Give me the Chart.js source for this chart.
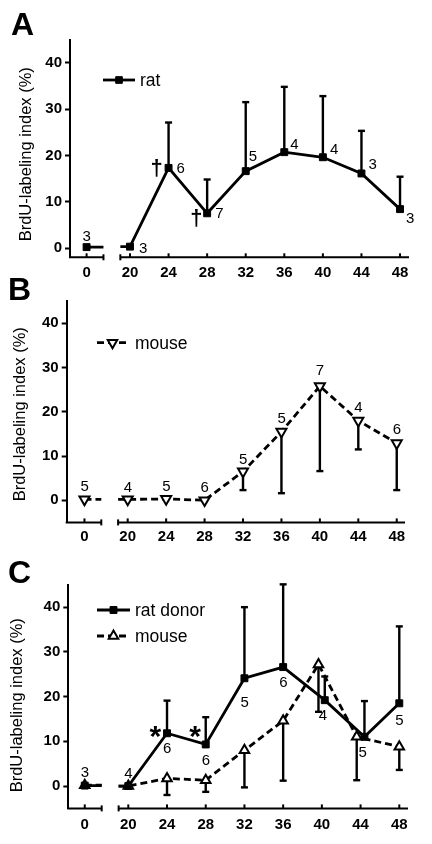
<!DOCTYPE html>
<html>
<head>
<meta charset="UTF-8">
<script src="https://cdn.jsdelivr.net/npm/chart.js"></script>
<style>
  body { margin: 0; background: #fff; }
  #wrap { position: relative; width: 432px; height: 844px; }
  #wrap canvas { position: absolute; left: 0; top: 0; }
</style>
</head>
<body>
<div id="wrap">
  <canvas id="chartA" width="432" height="844"></canvas>
  <canvas id="chartB" width="432" height="844"></canvas>
  <canvas id="chartC" width="432" height="844"></canvas>
</div>
<script>
// tick labels
var hourTicks = [0, 20, 24, 28, 32, 36, 40, 44, 48];
var yTicks = [0, 10, 20, 30, 40];

// panel A - rat
var ratAHours = [0, 20, 24, 28, 32, 36, 40, 44, 48];
var ratAValues = [0.2, 0.3, 17.3, 7.5, 16.6, 20.7, 19.6, 16.1, 8.4];
var ratAErrTop = [null, null, 27.1, 14.8, 31.5, 34.8, 32.8, 25.3, 15.4];
var ratAN = ['3', '3', '6', '7', '5', '4', '4', '3', '3'];

// panel B - mouse
var mouseBHours = [0, 20, 24, 28, 32, 36, 40, 44, 48];
var mouseBValues = [0.2, 0.2, 0.3, 0, 6.5, 15.5, 25.8, 18.0, 12.9];
var mouseBErrBottom = [null, null, null, null, 2.3, 1.6, 6.6, 11.5, 2.3];
var mouseBN = ['5', '4', '5', '6', '5', '5', '7', '4', '6'];

// panel C - rat donor and mouse (points at 40/44 drawn slightly apart, as in the figure)
var ratCHours = [0, 20, 24, 28, 32, 36, 40.3, 44.4, 48];
var ratCValues = [0.1, 0, 11.8, 9.3, 24.1, 26.6, 19.2, 11.0, 18.5];
var ratCErrTop = [null, null, 19.1, 15.4, 40.0, 45.1, 24.5, 19.0, 35.7];
var ratCN = ['3', '4', '6', '6', '5', '6', '4', '5', '5'];
var mouseCHours = [0, 20, 24, 28, 32, 36, 39.65, 43.6, 48];
var mouseCValues = [0.2, 0, 1.7, 1.3, 8.0, 14.6, 27.2, 11.0, 8.8];
var mouseCErrBottom = [null, null, -2.0, -1.3, -0.3, 1.2, 16.6, 1.3, 3.6];

// axis break: hour 0 is drawn at ZERO_POS, axis is cut between BREAK_L and BREAK_R
var ZERO_POS = 15.5, BREAK_L = 17.25, BREAK_R = 19.0;
var FONT = '"Liberation Sans", Arial, sans-serif';
var CAP = 3.5;

function toPos(h) { return h === 0 ? ZERO_POS : h; }

function buildLine(hours, values) {
  var pts = [];
  for (var i = 0; i < hours.length; i++) {
    pts.push({ x: toPos(hours[i]), y: values[i], mark: true });
    if (hours[i] === 0) {
      pts.push({ x: BREAK_L, y: values[i] });
      pts.push({ x: (BREAK_L + BREAK_R) / 2, y: null });
      pts.push({ x: BREAK_R, y: values[i + 1] });
    }
  }
  return pts;
}

function series(o) {
  return {
    label: o.label,
    data: buildLine(o.hours, o.values),
    hours: o.hours, values: o.values, errEnd: o.err, nLabels: o.n, nPlace: o.place,
    borderColor: '#000', borderWidth: 2.8, borderDash: o.dash || [],
    fill: false, tension: 0, spanGaps: false,
    pointStyle: o.style, pointRotation: o.rot || 0,
    pointRadius: function (c) { return c.raw && c.raw.mark ? o.r : 0; },
    pointBackgroundColor: o.bg, pointBorderColor: '#000', pointBorderWidth: o.bw
  };
}

function centerText(ctx, text, cx, cy) {
  ctx.textAlign = 'center';
  ctx.textBaseline = 'alphabetic';
  var m = ctx.measureText(text);
  ctx.fillText(text, cx - (m.actualBoundingBoxRight - m.actualBoundingBoxLeft) / 2,
    cy + (m.actualBoundingBoxAscent - m.actualBoundingBoxDescent) / 2);
}

function line(ctx, x1, y1, x2, y2) {
  ctx.beginPath(); ctx.moveTo(x1, y1); ctx.lineTo(x2, y2); ctx.stroke();
}

var panelPlugin = {
  id: 'panel',
  beforeDatasetsDraw: function (chart) {
    var ctx = chart.ctx, xs = chart.scales.x, ys = chart.scales.y;
    ctx.save();
    ctx.strokeStyle = '#000';
    ctx.lineWidth = 2.4;
    chart.data.datasets.forEach(function (ds) {
      if (!ds.errEnd) return;
      ds.errEnd.forEach(function (e, i) {
        if (e === null) return;
        var x = xs.getPixelForValue(toPos(ds.hours[i]));
        var y0 = ys.getPixelForValue(ds.values[i]);
        var y1 = ys.getPixelForValue(e);
        line(ctx, x, y0, x, y1);
        line(ctx, x - CAP, y1, x + CAP, y1);
      });
    });
    ctx.restore();
  },
  afterDraw: function (chart) {
    var ctx = chart.ctx, xs = chart.scales.x, ys = chart.scales.y;
    var p = chart.options.plugins.panel;
    var area = chart.chartArea;
    ctx.save();
    ctx.strokeStyle = '#000';
    ctx.fillStyle = '#000';
    ctx.lineWidth = 2;

    // broken x axis
    var yb = area.bottom;
    var xl = xs.getPixelForValue(BREAK_L), xr = xs.getPixelForValue(BREAK_R);
    line(ctx, area.left - 1, yb, xl, yb);
    line(ctx, xr, yb, area.right, yb);
    line(ctx, xl, yb - 3, xl, yb + 3);
    line(ctx, xr, yb - 3, xr, yb + 3);
    hourTicks.forEach(function (h) {
      var x = xs.getPixelForValue(toPos(h));
      line(ctx, x, yb, x, yb - 4);
    });

    // n per point
    ctx.font = '15px ' + FONT;
    chart.data.datasets.forEach(function (ds) {
      if (!ds.nLabels) return;
      ds.nLabels.forEach(function (t, i) {
        var x = xs.getPixelForValue(toPos(ds.hours[i]));
        var y = ys.getPixelForValue(ds.values[i]);
        centerText(ctx, t, x + ds.nPlace[i][0], y + ds.nPlace[i][1]);
      });
    });

    // significance marks
    (p.marks || []).forEach(function (m) {
      var ds = chart.data.datasets[m.ds];
      var x = xs.getPixelForValue(toPos(ds.hours[m.i]));
      var y = ys.getPixelForValue(ds.values[m.i]);
      ctx.font = m.font + ' ' + FONT;
      centerText(ctx, m.text, x + m.dx, y + m.dy);
    });

    // legend
    var lg = p.legend;
    lg.rows.forEach(function (row) {
      var ds = chart.data.datasets[row.ds];
      ctx.save();
      ctx.lineWidth = ds.borderWidth;
      ctx.setLineDash(ds.borderDash);
      line(ctx, lg.x0, row.y, lg.x1, row.y);
      ctx.restore();
      ctx.save();
      ctx.fillStyle = ds.pointBackgroundColor;
      ctx.strokeStyle = '#000';
      ctx.lineWidth = ds.pointBorderWidth;
      Chart.helpers.drawPoint(ctx, {
        pointStyle: ds.pointStyle, radius: row.r, rotation: ds.pointRotation,
        borderWidth: ds.pointBorderWidth
      }, (lg.x0 + lg.x1) / 2, row.y);
      ctx.restore();
      ctx.font = '17.5px ' + FONT;
      ctx.textAlign = 'left';
      ctx.textBaseline = 'alphabetic';
      ctx.fillText(ds.label, lg.tx, row.y + 6);
    });

    // y axis title
    ctx.save();
    ctx.translate(p.title.x, p.title.y);
    ctx.rotate(-Math.PI / 2);
    ctx.font = '16.5px ' + FONT;
    centerText(ctx, 'BrdU-labeling index (%)', 0, 0);
    ctx.restore();

    // panel letter
    ctx.font = 'bold 32px ' + FONT;
    centerText(ctx, p.letter.text, p.letter.x, p.letter.y);
    ctx.restore();
  }
};

function makePanel(id, cfg) {
  var a = cfg.area;
  return new Chart(document.getElementById(id), {
    type: 'line',
    data: { datasets: cfg.datasets },
    plugins: [panelPlugin],
    options: {
      responsive: false,
      animation: false,
      events: [],
      layout: { padding: { top: a.top, right: 432 - a.right, left: 0, bottom: 0 } },
      plugins: {
        legend: { display: false },
        tooltip: { enabled: false },
        panel: cfg
      },
      scales: {
        x: {
          type: 'linear', min: cfg.xMin, max: cfg.xMax,
          afterBuildTicks: function (s) { s.ticks = hourTicks.map(function (h) { return { value: toPos(h) }; }); },
          afterFit: function (s) { s.height = 844 - a.bottom; },
          ticks: {
            color: '#000', padding: cfg.xPad, maxRotation: 0, autoSkip: false,
            font: { family: FONT, size: 15, weight: 'bold' },
            callback: function (v) { return v === ZERO_POS ? '0' : String(v); }
          },
          grid: { display: false, drawTicks: false },
          border: { display: false }
        },
        y: {
          min: cfg.yMin, max: 45,
          afterBuildTicks: function (s) { s.ticks = yTicks.map(function (v) { return { value: v }; }); },
          afterFit: function (s) { s.width = a.left; },
          ticks: { color: '#000', padding: 3, font: { family: FONT, size: 15, weight: 'bold' } },
          grid: { drawOnChartArea: false, drawTicks: true, tickLength: 5, tickWidth: 2, tickColor: '#000' },
          border: { display: true, width: 2, color: '#000' }
        }
      }
    }
  });
}

makePanel('chartA', {
  area: { left: 70, right: 409, top: 39.6, bottom: 257.3 },
  yMin: -2, xMin: 13.78, xMax: 48.93, xPad: 7,
  letter: { text: 'A', x: 22.5, y: 24 },
  title: { x: 26, y: 154 },
  legend: { x0: 103, x1: 135, tx: 140, rows: [{ ds: 0, y: 80, r: 4.7 }] },
  marks: [
    { ds: 0, i: 2, text: '\u2020', font: 'bold 22px', dx: -12, dy: 0 },
    { ds: 0, i: 3, text: '\u2020', font: 'bold 22px', dx: -11, dy: 5 }
  ],
  datasets: [series({
    label: 'rat', hours: ratAHours, values: ratAValues, err: ratAErrTop, n: ratAN,
    place: [[0, -11], [13, 1], [12, 0], [12, 0], [7, -15], [10, -8], [11, -8], [11, -9], [10, 9]],
    style: 'rect', r: 4.9, bg: '#000', bw: 1
  })]
});

makePanel('chartB', {
  area: { left: 66.7, right: 405, top: 301.2, bottom: 522.4 },
  yMin: -5, xMin: 13.65, xMax: 48.86, xPad: 5,
  letter: { text: 'B', x: 20, y: 289 },
  title: { x: 20, y: 414 },
  legend: { x0: 97, x1: 128, tx: 135, rows: [{ ds: 0, y: 342.7, r: 5.5 }] },
  marks: [],
  datasets: [series({
    label: 'mouse', hours: mouseBHours, values: mouseBValues, err: mouseBErrBottom, n: mouseBN,
    place: [[0, -13], [0, -12], [0, -13], [0, -13], [0, -13], [0, -14], [0, -16], [0, -14], [0, -14]],
    style: 'triangle', rot: 180, r: 5.8, bg: '#fff', bw: 2, dash: [7, 4]
  })]
});

makePanel('chartC', {
  area: { left: 68.3, right: 408, top: 584.8, bottom: 808.4 },
  yMin: -5, xMin: 13.80, xMax: 48.90, xPad: 7,
  letter: { text: 'C', x: 20, y: 571.5 },
  title: { x: 17, y: 705 },
  legend: {
    x0: 97, x1: 130, tx: 135,
    rows: [{ ds: 0, y: 610, r: 4.9 }, { ds: 1, y: 636, r: 5.5 }]
  },
  marks: [
    { ds: 0, i: 2, text: '*', font: 'bold 30px', dx: -11.5, dy: -1.6 },
    { ds: 0, i: 3, text: '*', font: 'bold 30px', dx: -10.6, dy: -12.6 }
  ],
  datasets: [
    series({
      label: 'rat donor', hours: ratCHours, values: ratCValues, err: ratCErrTop, n: ratCN,
      place: [[0, -14], [0, -13], [0, 15], [0, 16], [0, 24], [0, 15], [-2, 15], [-2, 15], [0, 17]],
      style: 'rect', r: 4.9, bg: '#000', bw: 1
    }),
    series({
      label: 'mouse', hours: mouseCHours, values: mouseCValues, err: mouseCErrBottom,
      style: 'triangle', r: 5.5, bg: '#fff', bw: 2, dash: [7, 4]
    })
  ]
});
</script>
</body>
</html>
